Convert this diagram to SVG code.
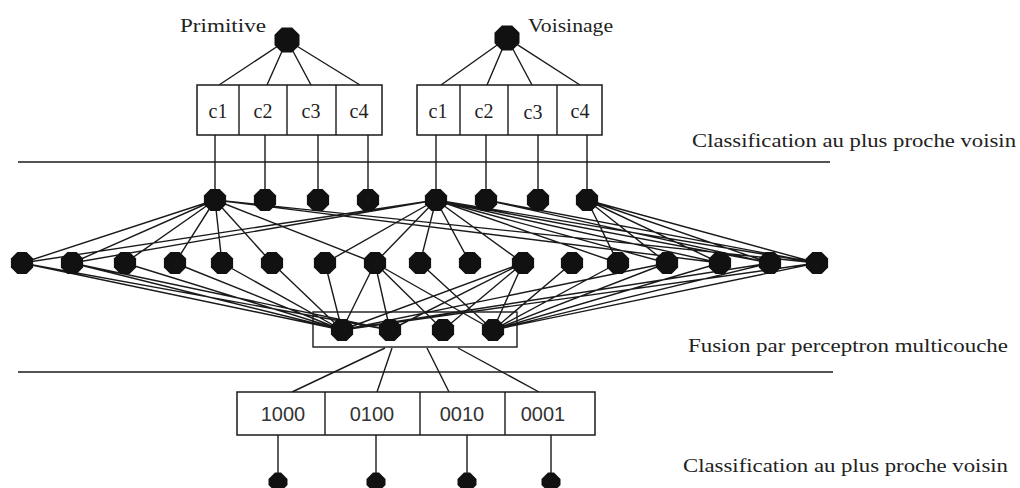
<svg xmlns="http://www.w3.org/2000/svg" xmlns:xlink="http://www.w3.org/1999/xlink" width="1020" height="488" viewBox="0 0 1020 488">
<style>
.ln{stroke:#1a1a1a;stroke-width:1.4;fill:none}
.box{fill:#fff;stroke:#1a1a1a;stroke-width:1.5}
.nd{fill:#111}
.lbl{font-family:"Liberation Serif",serif;font-size:19px;fill:#222}
.cl{font-family:"Liberation Serif",serif;font-size:20px;fill:#222;text-anchor:middle}
.num{font-family:"Liberation Sans",sans-serif;font-size:20px;fill:#333;text-anchor:middle}
</style>
<defs>
<polygon id="oct" points="11.1,4.6 4.6,11.1 -4.6,11.1 -11.1,4.6 -11.1,-4.6 -4.6,-11.1 4.6,-11.1 11.1,-4.6"/>
<polygon id="octB" points="12.5,5.2 5.2,12.5 -5.2,12.5 -12.5,5.2 -12.5,-5.2 -5.2,-12.5 5.2,-12.5 12.5,-5.2"/>
<polygon id="octS" points="9.5,3 3,9.5 -3,9.5 -9.5,3 -9.5,-3 -3,-9.5 3,-9.5 9.5,-3"/>
</defs>
<rect width="1020" height="488" fill="#fff"/>

<g id="separators">
<line class="ln" x1="18" y1="162" x2="830" y2="162"/>
<line class="ln" x1="18" y1="372" x2="833" y2="372"/>
</g>

<g id="connectors">
<path class="ln" d="M287,40 L219,85 M287,40 L267,85 M287,40 L311,85 M287,40 L360,85
M507,38 L441,85 M507,38 L487,85 M507,38 L532,85 M507,38 L580,85
M215,135 L215,200 M265,135 L265,200 M318,135 L318,200 M368,135 L368,200
M436,135 L436,200 M486,135 L486,200 M538,135 L538,200 M587,135 L587,200
M215,200 L22,263 M215,200 L72,263 M215,200 L125,263 M215,200 L175,263 M215,200 L222,263 M215,200 L272,263 M215,200 L375,263 M215,200 L720,263 M215,200 L817,263
M436,200 L22,263 M436,200 L72,263 M436,200 L325,263 M436,200 L375,263 M436,200 L420,263 M436,200 L470,263 M436,200 L523,263 M436,200 L618,263 M436,200 L667,263 M436,200 L720,263 M436,200 L770,263 M436,200 L817,263
M486,200 L770,263 M486,200 L817,263
M587,200 L618,263 M587,200 L667,263 M587,200 L720,263 M587,200 L770,263 M587,200 L817,263
M22,263 L342,330 M22,263 L390,330 M72,263 L342,330 M72,263 L390,330 M125,263 L342,330 M175,263 L342,330 M222,263 L342,330 M272,263 L342,330 M325,263 L342,330
M375,263 L342,330 M375,263 L390,330 M375,263 L443,330 M375,263 L493,330 M420,263 L493,330
M523,263 L342,330 M523,263 L390,330 M523,263 L443,330 M523,263 L493,330
M572,263 L493,330 M618,263 L493,330 M667,263 L493,330 M720,263 L493,330 M770,263 L493,330 M817,263 L493,330 M770,263 L342,330 M817,263 L342,330 M667,263 L342,330
M385,348 L292,392 M392,348 L377,392 M427,348 L449,392 M458,348 L539,392
M278,435 L278,474 M376,435 L376,474 M467,435 L467,474 M551,435 L551,474"/>
</g>

<g id="label-primitive"><text class="lbl" x="180" y="32" textLength="86" lengthAdjust="spacingAndGlyphs">Primitive</text></g>
<g id="label-voisinage"><text class="lbl" x="528" y="32" textLength="85" lengthAdjust="spacingAndGlyphs">Voisinage</text></g>

<g id="node-primitive"><use xlink:href="#octB" class="nd" x="287" y="40"/></g>
<g id="node-voisinage"><use xlink:href="#octB" class="nd" x="507" y="38"/></g>

<g id="box-primitive">
<rect class="box" x="197" y="85" width="185" height="50"/>
<line class="ln" x1="239" y1="85" x2="239" y2="135"/>
<line class="ln" x1="287" y1="85" x2="287" y2="135"/>
<line class="ln" x1="336" y1="85" x2="336" y2="135"/>
<text class="cl" x="218" y="118">c1</text>
<text class="cl" x="263" y="118">c2</text>
<text class="cl" x="311" y="118">c3</text>
<text class="cl" x="359" y="118">c4</text>
</g>
<g id="box-voisinage">
<rect class="box" x="417" y="85" width="185" height="50"/>
<line class="ln" x1="460" y1="85" x2="460" y2="135"/>
<line class="ln" x1="508" y1="85" x2="508" y2="135"/>
<line class="ln" x1="557" y1="85" x2="557" y2="135"/>
<text class="cl" x="438" y="118">c1</text>
<text class="cl" x="484" y="118">c2</text>
<text class="cl" x="533" y="119">c3</text>
<text class="cl" x="580" y="118">c4</text>
</g>

<g id="layer1">
<use xlink:href="#oct" class="nd" x="215" y="200"/>
<use xlink:href="#oct" class="nd" x="265" y="200"/>
<use xlink:href="#oct" class="nd" x="318" y="200"/>
<use xlink:href="#oct" class="nd" x="368" y="200"/>
<use xlink:href="#oct" class="nd" x="436" y="200"/>
<use xlink:href="#oct" class="nd" x="486" y="200"/>
<use xlink:href="#oct" class="nd" x="538" y="200"/>
<use xlink:href="#oct" class="nd" x="587" y="200"/>
</g>

<g id="layer2">
<use xlink:href="#oct" class="nd" x="22" y="263"/>
<use xlink:href="#oct" class="nd" x="72" y="263"/>
<use xlink:href="#oct" class="nd" x="125" y="263"/>
<use xlink:href="#oct" class="nd" x="175" y="263"/>
<use xlink:href="#oct" class="nd" x="222" y="263"/>
<use xlink:href="#oct" class="nd" x="272" y="263"/>
<use xlink:href="#oct" class="nd" x="325" y="263"/>
<use xlink:href="#oct" class="nd" x="375" y="263"/>
<use xlink:href="#oct" class="nd" x="420" y="263"/>
<use xlink:href="#oct" class="nd" x="470" y="263"/>
<use xlink:href="#oct" class="nd" x="523" y="263"/>
<use xlink:href="#oct" class="nd" x="572" y="263"/>
<use xlink:href="#oct" class="nd" x="618" y="263"/>
<use xlink:href="#oct" class="nd" x="667" y="263"/>
<use xlink:href="#oct" class="nd" x="720" y="263"/>
<use xlink:href="#oct" class="nd" x="770" y="263"/>
<use xlink:href="#oct" class="nd" x="817" y="263"/>
</g>

<g id="fusion-box">
<rect class="ln" x="313" y="312" width="204" height="35"/>
<use xlink:href="#oct" class="nd" x="342" y="330"/>
<use xlink:href="#oct" class="nd" x="390" y="330"/>
<use xlink:href="#oct" class="nd" x="443" y="330"/>
<use xlink:href="#oct" class="nd" x="493" y="330"/>
</g>

<g id="output-box">
<rect class="box" x="237" y="392" width="358" height="43"/>
<line class="ln" x1="325" y1="392" x2="325" y2="435"/>
<line class="ln" x1="420" y1="392" x2="420" y2="435"/>
<line class="ln" x1="505" y1="392" x2="505" y2="435"/>
<text class="num" x="283" y="421">1000</text>
<text class="num" x="372" y="421">0100</text>
<text class="num" x="462" y="421">0010</text>
<text class="num" x="543" y="421">0001</text>
</g>

<g id="outputs">
<use xlink:href="#octS" class="nd" x="278" y="482"/>
<use xlink:href="#octS" class="nd" x="376" y="482"/>
<use xlink:href="#octS" class="nd" x="467" y="482"/>
<use xlink:href="#octS" class="nd" x="551" y="482"/>
</g>

<g id="side-labels">
<text class="lbl" x="692" y="147" textLength="324" lengthAdjust="spacingAndGlyphs">Classification au plus proche voisin</text>
<text class="lbl" x="688" y="352" textLength="320" lengthAdjust="spacingAndGlyphs">Fusion par perceptron multicouche</text>
<text class="lbl" x="683" y="472" textLength="325" lengthAdjust="spacingAndGlyphs">Classification au plus proche voisin</text>
</g>
</svg>
